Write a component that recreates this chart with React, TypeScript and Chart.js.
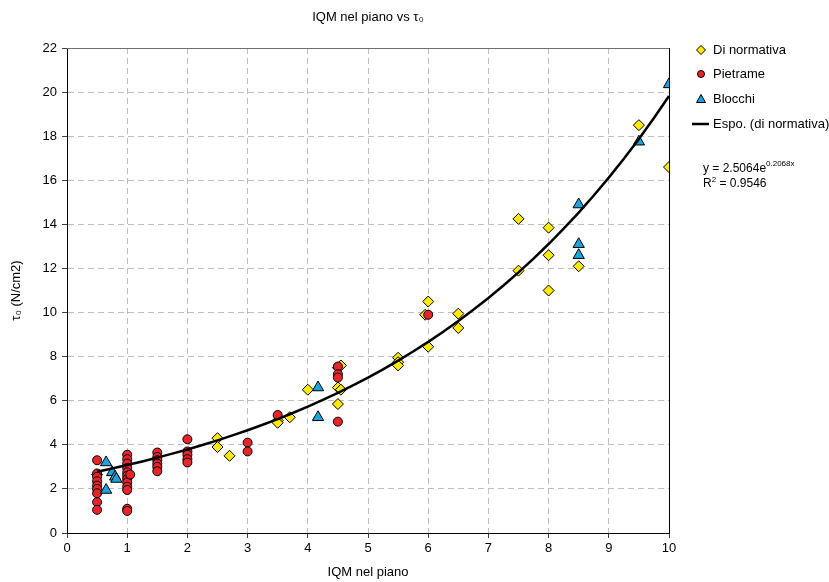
import { useEffect, useRef } from 'react';
import { Chart, registerables } from 'chart.js';

Chart.register(...registerables);

// ---- Data ----
const normX = [0.5, 2.5, 2.5, 2.7, 3.5, 3.5, 3.7, 4.0, 4.5, 4.55, 4.5, 4.55, 4.5, 5.5, 5.5, 5.5, 5.95, 6.0, 6.0, 6.5, 6.5, 7.5, 7.5, 8.0, 8.0, 8.0, 8.5, 9.5, 10];
const normY = [2.65, 4.3, 3.9, 3.5, 5.1, 5.0, 5.25, 6.5, 7.5, 7.6, 6.6, 6.5, 5.85, 7.95, 7.75, 7.6, 9.9, 10.5, 8.45, 9.95, 9.3, 14.25, 11.9, 13.85, 12.6, 11.0, 12.1, 18.5, 16.6];

const pietX = [0.5, 0.5, 0.5, 0.5, 0.5, 0.5, 0.5, 0.5, 0.5,
  1.0, 1.0, 1.0, 1.0, 1.0, 1.0, 1.0, 1.0, 1.0, 1.0, 1.0, 1.0, 1.05,
  1.5, 1.5, 1.5, 1.5, 1.5, 1.5,
  2.0, 2.0, 2.0, 2.0, 2.0,
  3.0, 3.0, 3.5,
  4.5, 4.5, 4.5, 4.5, 6.0];
const pietY = [3.3, 2.7, 2.55, 2.35, 2.15, 2.0, 1.8, 1.4, 1.05,
  3.55, 3.35, 3.15, 2.95, 2.75, 2.6, 2.45, 2.3, 2.1, 1.95, 1.1, 1.0, 2.65,
  3.65, 3.45, 3.3, 3.15, 3.0, 2.8,
  4.25, 3.7, 3.55, 3.35, 3.2,
  4.1, 3.7, 5.35,
  7.55, 7.2, 7.05, 5.05, 9.9];

const bloX = [0.65, 0.75, 0.8, 0.82, 0.65, 4.17, 4.17, 8.5, 8.5, 8.5, 9.5, 10];
const bloY = [3.2, 2.75, 2.55, 2.45, 1.95, 6.6, 5.25, 14.9, 13.1, 12.6, 17.75, 20.35];

// Exponential trendline fitted on "Di normativa": y = A * e^(B x)
const trendA = 2.5064;
const trendB = 0.2068;
const trendR2 = 0.9546;
const trendXs = [0.5, 0.75, 1, 1.25, 1.5, 1.75, 2, 2.25, 2.5, 2.75, 3, 3.25, 3.5, 3.75, 4, 4.25, 4.5, 4.75, 5, 5.25, 5.5, 5.75, 6, 6.25, 6.5, 6.75, 7, 7.25, 7.5, 7.75, 8, 8.25, 8.5, 8.75, 9, 9.25, 9.5, 9.75, 10];

const xTicks = [0, 1, 2, 3, 4, 5, 6, 7, 8, 9, 10];
const yTicks = [0, 2, 4, 6, 8, 10, 12, 14, 16, 18, 20, 22];

const seriesNames = ['Di normativa', 'Pietrame', 'Blocchi', 'Espo. (di normativa)'];
const chartTitle = 'IQM nel piano vs \u03C4\u2080';
const xTitle = 'IQM nel piano';
const yTitle = '\u03C4\u2080 (N/cm2)';

const FONT = "'Liberation Sans', Arial, sans-serif";
const YELLOW = '#FFEA00';
const RED = '#E8252B';
const BLUE = '#1BA3DC';

const zip = (xs: number[], ys: number[]) => xs.map((x, i) => ({ x, y: ys[i] }));

const decorPlugin = {
  id: 'decor',
  afterDatasetsDraw(chart: any) {
    const { ctx, chartArea } = chart;
    const { left, right, top, bottom } = chartArea;
    ctx.save();
    ctx.setLineDash([]);
    ctx.lineWidth = 1;
    ctx.strokeStyle = '#707070';
    ctx.beginPath();
    ctx.moveTo(left, top + 0.5);
    ctx.lineTo(right, top + 0.5);
    ctx.stroke();
    ctx.strokeStyle = '#000';
    ctx.beginPath();
    ctx.moveTo(right + 0.5, top);
    ctx.lineTo(right + 0.5, bottom);
    ctx.stroke();
    ctx.restore();
  },
  afterDraw(chart: any) {
    const { ctx, chartArea } = chart;
    ctx.save();
    ctx.fillStyle = '#000';
    ctx.font = `13px ${FONT}`;
    ctx.textAlign = 'center';
    ctx.textBaseline = 'middle';
    ctx.fillText(chartTitle, (chartArea.left + chartArea.right) / 2, 17);

    // legend
    const mx = 701;
    const tx = 713;
    const rows = [50, 74, 99, 124];
    ctx.textAlign = 'left';
    ctx.lineWidth = 1;
    ctx.strokeStyle = '#000';
    ctx.fillStyle = YELLOW;
    ctx.beginPath();
    ctx.moveTo(mx - 4.5, rows[0]);
    ctx.lineTo(mx, rows[0] - 4.5);
    ctx.lineTo(mx + 4.5, rows[0]);
    ctx.lineTo(mx, rows[0] + 4.5);
    ctx.closePath();
    ctx.fill();
    ctx.stroke();
    ctx.fillStyle = RED;
    ctx.beginPath();
    ctx.arc(mx, rows[1], 3.5, 0, Math.PI * 2);
    ctx.fill();
    ctx.stroke();
    ctx.fillStyle = BLUE;
    ctx.beginPath();
    ctx.moveTo(mx, rows[2] - 4.5);
    ctx.lineTo(mx + 4.5, rows[2] + 3.5);
    ctx.lineTo(mx - 4.5, rows[2] + 3.5);
    ctx.closePath();
    ctx.fill();
    ctx.stroke();
    ctx.lineWidth = 2.5;
    ctx.beginPath();
    ctx.moveTo(692, rows[3]);
    ctx.lineTo(709, rows[3]);
    ctx.stroke();

    ctx.fillStyle = '#000';
    ctx.font = `13px ${FONT}`;
    seriesNames.forEach((n, i) => ctx.fillText(n, tx, rows[i]));

    // equation
    const ex = 703;
    const eqMain = `y = ${trendA.toFixed(4)}e`;
    ctx.font = `12px ${FONT}`;
    ctx.fillText(eqMain, ex, 169);
    const w = ctx.measureText(eqMain).width;
    ctx.font = `8px ${FONT}`;
    ctx.fillText(`${trendB.toFixed(4)}x`, ex + w, 164);
    ctx.font = `12px ${FONT}`;
    ctx.fillText('R', ex, 184);
    const wr = ctx.measureText('R').width;
    ctx.font = `8px ${FONT}`;
    ctx.fillText('2', ex + wr, 180);
    const w2 = ctx.measureText('2').width;
    ctx.font = `12px ${FONT}`;
    ctx.fillText(` = ${trendR2.toFixed(4)}`, ex + wr + w2, 184);
    ctx.restore();
  },
};

export default function App() {
  const ref = useRef<HTMLCanvasElement | null>(null);

  useEffect(() => {
    document.body.style.margin = '0';
    const canvas = ref.current;
    if (!canvas) return;
    const chart = new Chart(canvas, {
      type: 'scatter',
      data: {
        datasets: [
          {
            type: 'line',
            label: seriesNames[3],
            data: trendXs.map((x) => ({ x, y: trendA * Math.exp(trendB * x) })),
            borderColor: '#000',
            borderWidth: 2.5,
            pointRadius: 0,
            fill: false,
            tension: 0,
            order: 0,
          },
          {
            label: seriesNames[2],
            data: zip(bloX, bloY),
            pointStyle: 'triangle',
            pointRadius: 6.5,
            backgroundColor: BLUE,
            borderColor: '#000',
            borderWidth: 1,
            order: 1,
          },
          {
            label: seriesNames[1],
            data: zip(pietX, pietY),
            pointStyle: 'circle',
            pointRadius: 4.5,
            backgroundColor: RED,
            borderColor: '#000',
            borderWidth: 1,
            order: 2,
          },
          {
            label: seriesNames[0],
            data: zip(normX, normY),
            pointStyle: 'rectRot',
            pointRadius: 5.5,
            backgroundColor: YELLOW,
            borderColor: '#000',
            borderWidth: 1,
            order: 3,
          },
        ],
      },
      options: {
        responsive: false,
        animation: false,
        layout: { padding: { left: 0, right: 160, top: 48, bottom: 0 } },
        plugins: {
          legend: { display: false },
          title: { display: false },
          tooltip: { enabled: false },
        },
        scales: {
          x: {
            type: 'linear',
            min: 0,
            max: 10,
            afterBuildTicks: (s: any) => { s.ticks = xTicks.map((v) => ({ value: v })); },
            afterFit: (s: any) => { s.height = 49; },
            ticks: { color: '#000', font: { family: FONT, size: 13 }, padding: 3 },
            grid: {
              color: '#BFBFBF',
              lineWidth: 1,
              tickLength: 5,
              tickColor: '#404040',
              tickBorderDash: [],
            },
            border: { color: '#000', width: 1, dash: [6, 4] },
            title: { display: true, text: xTitle, color: '#000', font: { family: FONT, size: 13 }, padding: { top: 0, bottom: 2 } },
          },
          y: {
            type: 'linear',
            min: 0,
            max: 22,
            afterBuildTicks: (s: any) => { s.ticks = yTicks.map((v) => ({ value: v })); },
            afterFit: (s: any) => { s.width = 67; },
            ticks: { color: '#000', font: { family: FONT, size: 13 }, padding: 5 },
            grid: {
              color: '#BFBFBF',
              lineWidth: 1,
              tickLength: 5,
              tickColor: '#404040',
              tickBorderDash: [],
            },
            border: { color: '#000', width: 1, dash: [6, 4] },
            title: { display: true, text: yTitle, color: '#000', font: { family: FONT, size: 13 }, padding: { top: 9, bottom: 0 } },
          },
        },
      },
      plugins: [decorPlugin],
    });
    return () => chart.destroy();
  }, []);

  return <canvas ref={ref} width={829} height={582} style={{ display: 'block' }} />;
}
